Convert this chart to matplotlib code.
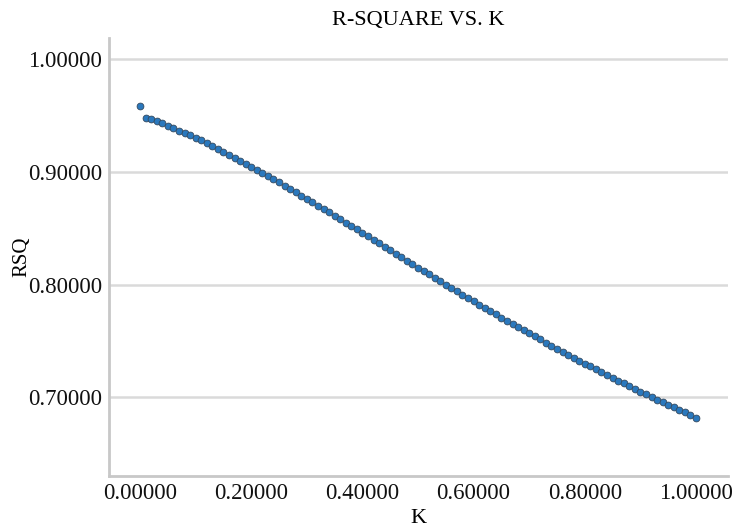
import numpy as np
import matplotlib
matplotlib.use("Agg")
import matplotlib.pyplot as plt

plt.rcParams['font.family'] = ['Liberation Serif', 'DejaVu Serif']

k_vals = [i / 100 for i in range(101)]
rsq = [0.9586, 0.9474, 0.9465, 0.9451, 0.9430, 0.9406,
       0.9386, 0.9365, 0.9344, 0.9322, 0.9300,
       0.9277, 0.9253, 0.9229, 0.9204, 0.9178,
       0.9152, 0.9126, 0.9099, 0.9072, 0.9046,
       0.9018, 0.8990, 0.8962, 0.8934, 0.8906,
       0.8877, 0.8848, 0.8819, 0.8789, 0.8760,
       0.8730, 0.8700, 0.8670, 0.8640, 0.8610,
       0.8579, 0.8549, 0.8518, 0.8488, 0.8457,
       0.8426, 0.8395, 0.8365, 0.8334, 0.8303,
       0.8272, 0.8242, 0.8211, 0.8181, 0.8150,
       0.8120, 0.8090, 0.8059, 0.8029, 0.7999,
       0.7969, 0.7940, 0.7910, 0.7881, 0.7851,
       0.7822, 0.7794, 0.7765, 0.7736, 0.7707,
       0.7679, 0.7651, 0.7623, 0.7595, 0.7567,
       0.7540, 0.7513, 0.7485, 0.7458, 0.7431,
       0.7405, 0.7378, 0.7352, 0.7325, 0.7299,
       0.7274, 0.7248, 0.7223, 0.7197, 0.7172,
       0.7148, 0.7123, 0.7099, 0.7074, 0.7050,
       0.7027, 0.7003, 0.6980, 0.6956, 0.6933,
       0.6911, 0.6888, 0.6866, 0.6843, 0.6821]

xticks = [0.0, 0.2, 0.4, 0.6, 0.8, 1.0]
yticks = [0.7, 0.8, 0.9, 1.0]

fig = plt.figure(figsize=(7.38, 5.27), dpi=100)
ax = fig.add_axes([0.1477, 0.0968, 0.8388, 0.8312])

ax.scatter(k_vals, rsq, s=24, color='#2a78bd', edgecolors='#34495e',
           linewidths=0.6, zorder=3)

ax.set_xlim(-0.0558, 1.0576)
ax.set_ylim(0.6303, 1.0186)
ax.set_xticks(xticks)
ax.set_yticks(yticks)
ax.set_xticklabels(['%.5f' % v for v in xticks])
ax.set_yticklabels(['%.5f' % v for v in yticks])
ax.tick_params(length=0, labelsize=16.5, colors='#111111', pad=5)

ax.grid(axis='y', color='#dadada', linewidth=1.8)
ax.set_axisbelow(True)
for s in ['top', 'right']:
    ax.spines[s].set_visible(False)
for s in ['left', 'bottom']:
    ax.spines[s].set_color('#c8c8c8')
    ax.spines[s].set_linewidth(2)

ax.set_title('R-SQUARE VS. K', fontsize=16, pad=9)
ax.set_xlabel('K', fontsize=16, labelpad=4)
ax.set_ylabel('RSQ', fontsize=15)
ax.yaxis.set_label_coords(-0.125, 0.5)

fig.savefig('out.png', dpi=100)
